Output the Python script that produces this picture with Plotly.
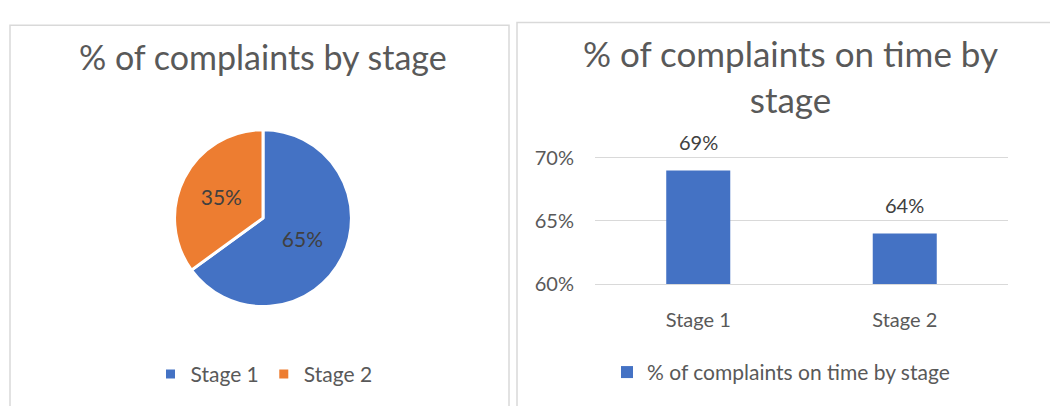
import plotly.graph_objects as go

# Data
stages = ["Stage 1", "Stage 2"]
share_by_stage = [65, 35]            # % of complaints by stage
on_time_by_stage = [0.69, 0.64]      # % of complaints on time by stage
y_ticks = [0.60, 0.65, 0.70]

W, H = 1050, 406
BLUE, ORANGE = "#4472C4", "#ED7D31"
TXT, LBL, GRID = "#595959", "#404040", "#D9D9D9"
FONT = "Lato"


def px(x):
    return x / W


def py(y):
    return 1 - y / H


fig = go.Figure()

fig.add_trace(go.Pie(
    labels=stages,
    values=share_by_stage,
    sort=False,
    direction="clockwise",
    rotation=0,
    marker=dict(colors=[BLUE, ORANGE], line=dict(color="white", width=3)),
    texttemplate="%{value}%",
    textposition="inside",
    insidetextorientation="horizontal",
    textfont=dict(family=FONT, size=21, color=LBL),
    domain=dict(x=[px(169), px(357)], y=[py(312), py(124)]),
    legend="legend",
    hoverinfo="label+percent",
))

fig.add_trace(go.Bar(
    x=stages,
    y=on_time_by_stage,
    name="% of complaints on time by stage",
    marker=dict(color=BLUE, line=dict(width=0)),
    width=0.31,
    xaxis="x",
    yaxis="y",
    legend="legend2",
    showlegend=True,
))

# Value labels above the bars
for s, v in zip(stages, on_time_by_stage):
    fig.add_annotation(
        x=s, y=v, xref="x", yref="y",
        text=f"{v:.0%}", showarrow=False,
        yanchor="bottom", yshift=15,
        font=dict(family=FONT, size=20, color=LBL),
    )

# Chart titles
fig.add_annotation(
    x=px(263), y=py(46), xref="paper", yref="paper",
    text="% of complaints by stage", showarrow=False,
    xanchor="center", yanchor="middle",
    font=dict(family=FONT, size=34, color=TXT),
)
fig.add_annotation(
    x=px(790), y=py(67), xref="paper", yref="paper",
    text="% of complaints on time by<br>stage", showarrow=False,
    xanchor="center", yanchor="middle",
    font=dict(family=FONT, size=35, color=TXT),
)

# Panel borders
fig.add_shape(type="rect", xref="paper", yref="paper",
              x0=px(10), x1=px(509), y0=py(420), y1=py(13),
              line=dict(color=GRID, width=1.5), layer="below")
fig.add_shape(type="rect", xref="paper", yref="paper",
              x0=px(517), x1=px(1060), y0=py(420), y1=py(10),
              line=dict(color=GRID, width=1.5), layer="below")

fig.update_layout(
    width=W, height=H,
    margin=dict(l=0, r=0, t=0, b=0),
    paper_bgcolor="white",
    plot_bgcolor="white",
    font=dict(family=FONT, color=TXT),
    xaxis=dict(
        domain=[px(595), px(1008)],
        anchor="y",
        showgrid=False, zeroline=False,
        showline=True, mirror=True, linecolor=GRID, linewidth=1,
        tickfont=dict(family=FONT, size=20, color=TXT),
        ticks="", ticklabelstandoff=18,
    ),
    yaxis=dict(
        domain=[py(288), py(154)],
        anchor="x",
        range=[0.60, 0.70],
        tickvals=y_ticks,
        tickformat=".0%",
        showgrid=True, gridcolor=GRID, gridwidth=1,
        zeroline=False, showline=False,
        tickfont=dict(family=FONT, size=20, color=TXT),
        ticks="", ticklabelstandoff=20,
    ),
    legend=dict(
        orientation="h", x=px(264), y=py(384),
        xanchor="center", yanchor="middle",
        font=dict(family=FONT, size=21, color=TXT),
        bgcolor="rgba(0,0,0,0)",
    ),
    legend2=dict(
        orientation="h", x=px(781), y=py(382),
        xanchor="center", yanchor="middle",
        font=dict(family=FONT, size=21, color=TXT),
        bgcolor="rgba(0,0,0,0)",
    ),
    showlegend=True,
)

fig.write_html("out.html")
